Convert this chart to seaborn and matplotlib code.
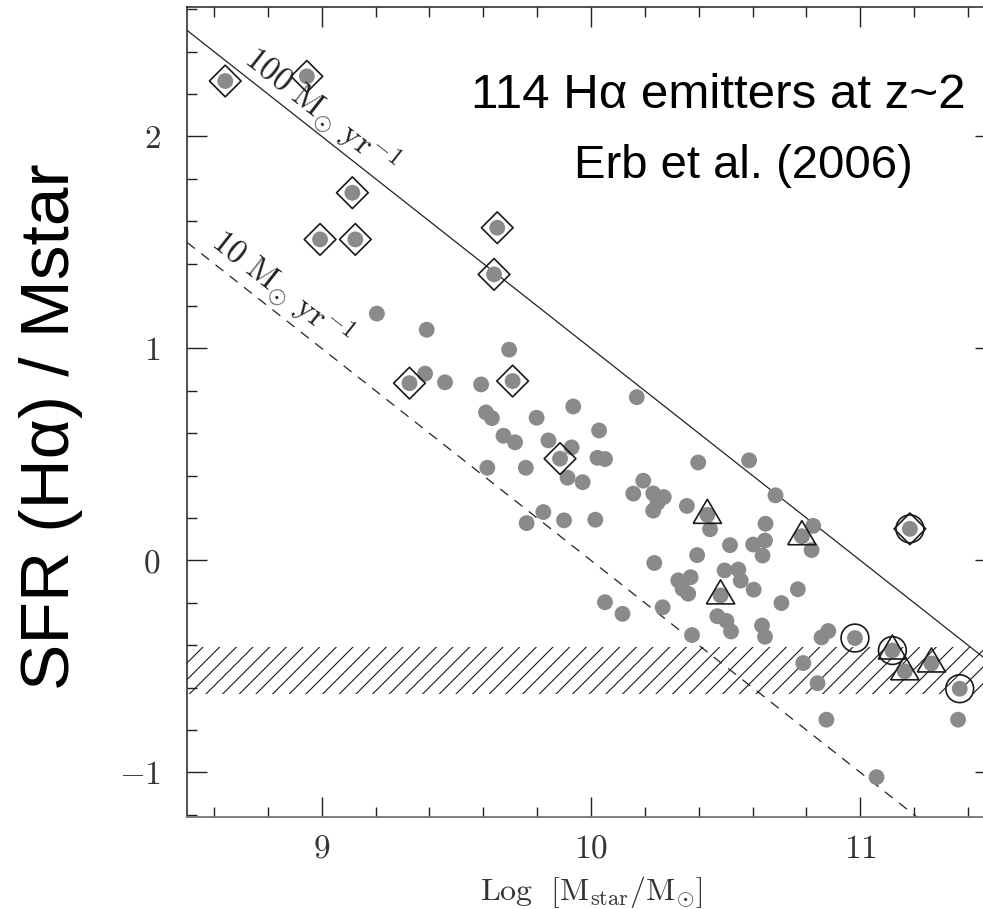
import numpy as np
import pandas as pd
import matplotlib
matplotlib.use("Agg")
import matplotlib.pyplot as plt
import seaborn as sns
from matplotlib.ticker import MultipleLocator, FuncFormatter

# ---------------- data ----------------
plain_x = [9.205, 9.390, 9.696, 9.384, 9.458, 9.592, 9.934, 9.610, 9.632, 9.798,
           9.675, 9.718, 9.842, 9.928, 9.913, 9.969, 9.615, 9.758, 9.823, 9.761,
           9.900,
           10.170, 10.030, 10.024, 10.052, 10.398, 10.587, 10.194, 10.157, 10.231,
           10.270, 10.247, 10.231, 10.356, 10.442, 10.685, 10.648, 10.646, 10.602,
           10.637, 10.516, 10.394, 10.235, 10.016, 10.825, 10.819,
           10.324, 10.370, 10.340, 10.361, 10.496, 10.547, 10.556, 10.604, 10.768,
           10.707, 10.052, 10.117, 10.266, 10.469, 10.503, 10.520, 10.375, 10.635,
           10.646, 10.856, 10.881, 10.788, 10.841, 10.874, 11.060, 11.363]
plain_y = [1.164, 1.088, 0.994, 0.881, 0.840, 0.830, 0.726, 0.698, 0.671, 0.673,
           0.588, 0.557, 0.566, 0.533, 0.390, 0.369, 0.437, 0.437, 0.228, 0.176,
           0.189,
           0.770, 0.613, 0.484, 0.478, 0.462, 0.472, 0.376, 0.315, 0.316,
           0.299, 0.272, 0.235, 0.257, 0.147, 0.307, 0.173, 0.094, 0.075,
           0.023, 0.072, 0.025, -0.012, 0.192, 0.163, 0.049,
           -0.094, -0.079, -0.134, -0.157, -0.047, -0.043, -0.095, -0.138, -0.136,
           -0.201, -0.197, -0.252, -0.221, -0.263, -0.285, -0.335, -0.352, -0.307,
           -0.360, -0.363, -0.333, -0.484, -0.579, -0.751, -1.022, -0.751]

diamond_x = [8.642, 8.945, 9.114, 8.994, 9.125, 9.652, 9.640, 9.326, 9.709, 9.885, 11.184]
diamond_y = [2.261, 2.283, 1.734, 1.514, 1.514, 1.569, 1.349, 0.836, 0.846, 0.480, 0.149]

triangle_x = [10.432, 10.481, 10.783, 11.119, 11.165, 11.264]
triangle_y = [0.215, -0.165, 0.114, -0.425, -0.523, -0.486]

ring_x = [10.980, 11.119, 11.369, 11.184]
ring_y = [-0.366, -0.425, -0.605, 0.149]

sfr_values = [100, 10]              # Msun/yr, lines of constant SFR
sfr_labels = [r"$100\ \mathrm{M}_{\odot}\ \mathrm{yr}^{-1}$",
              r"$10\ \mathrm{M}_{\odot}\ \mathrm{yr}^{-1}$"]
band_low, band_high = -0.63, -0.41  # hatched detection-limit band

x_limits = (8.5, 11.5)
y_limits = (-1.21, 2.61)
x_ticks = [9, 10, 11]
y_ticks = [-1, 0, 1, 2]

annot_lines = ["114 H\u03b1 emitters at z~2", "Erb et al. (2006)"]

# ---------------- style ----------------
sns.set_theme(style="ticks")
plt.rcParams["font.family"] = ["Liberation Sans", "DejaVu Sans"]
plt.rcParams["mathtext.fontset"] = "cm"
plt.rcParams["hatch.linewidth"] = 0.8
plt.rcParams["axes.unicode_minus"] = True

W, H = 983, 909
fig = plt.figure(figsize=(W / 100, H / 100), dpi=100)
fig.patch.set_facecolor("white")
ax = fig.add_axes([187 / W, 1 - 817 / H, (995 - 187) / W, (817 - 7) / H])
ax.set_xlim(*x_limits)
ax.set_ylim(*y_limits)

GREY = "#8a8a8a"
INK = "#1a1a1a"

# hatched band
ax.axhspan(band_low, band_high, facecolor="none", edgecolor=INK,
           hatch="//", linewidth=0, zorder=1)

# constant-SFR lines
mass_grid = np.array(x_limits)
line_styles = ["-", (0, (8, 6.5))]
for sfr, ls in zip(sfr_values, line_styles):
    yy = np.log10(sfr) + 9 - mass_grid
    sns.lineplot(x=mass_grid, y=yy, ax=ax, color="#222222", linewidth=0.9,
                 linestyle=ls, zorder=2)

# grey points (all galaxies)
grey = pd.DataFrame({
    "x": plain_x + diamond_x + triangle_x + ring_x,
    "y": plain_y + diamond_y + triangle_y + ring_y,
}).drop_duplicates()
sns.scatterplot(data=grey, x="x", y="y", ax=ax, color=GREY, s=130,
                edgecolor="none", linewidth=0, zorder=3)

# open markers
sns.scatterplot(x=diamond_x, y=diamond_y, ax=ax, marker="D", s=260,
                facecolor="none", edgecolor=INK, linewidth=1.2, zorder=4)
tri_marker = [(-1.0, -0.6), (1.0, -0.6), (0.0, 1.1), (-1.0, -0.6)]
sns.scatterplot(x=triangle_x, y=triangle_y, ax=ax, marker=tri_marker, s=500,
                facecolor="none", edgecolor=INK, linewidth=1.2, zorder=4)
sns.scatterplot(x=ring_x, y=ring_y, ax=ax, marker="o", s=400,
                facecolor="none", edgecolor=INK, linewidth=1.2, zorder=4)

# labels along the SFR lines
label_pos = [(8.998, 2.123), (8.853, 1.283)]
for (lx, ly), txt in zip(label_pos, sfr_labels):
    ax.text(lx, ly, txt, fontsize=24, color="#222222", rotation=-45,
            transform_rotates_text=True, rotation_mode="anchor",
            ha="center", va="center", zorder=5)

# annotation
ax.text(10.471, 2.132, annot_lines[0], fontsize=35.5, ha="center",
        va="baseline", color="black", zorder=6)
ax.text(10.564, 1.802, annot_lines[1], fontsize=34, ha="center",
        va="baseline", color="black", zorder=6)

# axes / ticks
ax.xaxis.set_major_locator(MultipleLocator(1))
ax.xaxis.set_minor_locator(MultipleLocator(0.2))
ax.yaxis.set_major_locator(MultipleLocator(1))
ax.yaxis.set_minor_locator(MultipleLocator(0.2))
ax.set_xticks(x_ticks)
ax.set_yticks(y_ticks)
fmt = FuncFormatter(lambda v, p: f"${v:g}$")
ax.xaxis.set_major_formatter(fmt)
ax.yaxis.set_major_formatter(fmt)
ax.tick_params(which="both", direction="in", top=True, right=True,
               color="#222222", labelcolor="#333333", width=1.0)
ax.tick_params(which="major", length=14.4)
ax.tick_params(which="minor", length=7.2)
ax.tick_params(axis="x", which="major", pad=12, labelsize=24)
ax.tick_params(axis="y", which="major", pad=19, labelsize=24)
for side in ["left", "top", "right"]:
    ax.spines[side].set_color("#222222")
    ax.spines[side].set_linewidth(1.1)
ax.spines["bottom"].set_color("#777777")
ax.spines["bottom"].set_linewidth(1.3)
ax.set_xlabel("")
ax.set_ylabel("")

fig.text(591 / W, 1 - 892 / H, r"$\mathrm{Log\ \ [M_{star}/M_{\odot}]}$",
         fontsize=23, ha="center", va="center", color="#333333")
fig.text(51 / W, 1 - 427 / H, "SFR (H\u03b1) / Mstar", rotation=90,
         fontsize=50, ha="center", va="center", color="black")

fig.savefig("out.png", dpi=100)
